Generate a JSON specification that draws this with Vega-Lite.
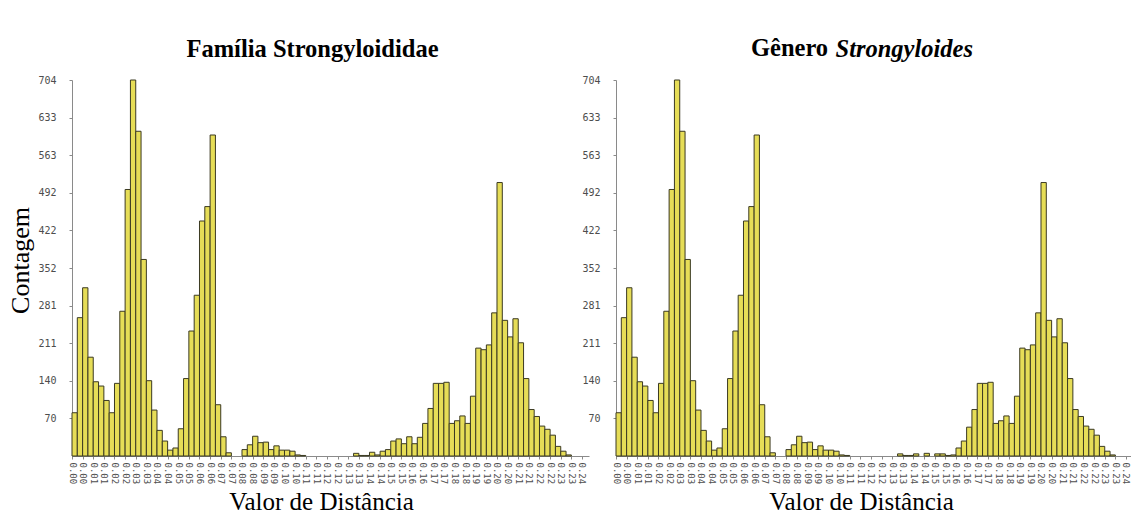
{
  "$schema": "https://vega.github.io/schema/vega-lite/v6.json",
  "background": "white",
  "padding": {"left": 7, "top": 36, "right": 0, "bottom": 0},
  "spacing": 27,
  "bounds": "flush",
  "title": {
    "text": "Gênero",
    "frame": "group",
    "anchor": "start",
    "dx": 679,
    "dy": 38
  },
  "datasets": {
    "familia": [
      {"x0": 0.0000, "x1": 0.0025, "n": 81},
      {"x0": 0.0025, "x1": 0.0050, "n": 259},
      {"x0": 0.0050, "x1": 0.0075, "n": 315},
      {"x0": 0.0075, "x1": 0.0100, "n": 185},
      {"x0": 0.0100, "x1": 0.0125, "n": 139},
      {"x0": 0.0125, "x1": 0.0150, "n": 131},
      {"x0": 0.0150, "x1": 0.0175, "n": 104},
      {"x0": 0.0175, "x1": 0.0200, "n": 81},
      {"x0": 0.0200, "x1": 0.0225, "n": 136},
      {"x0": 0.0225, "x1": 0.0250, "n": 271},
      {"x0": 0.0250, "x1": 0.0275, "n": 499},
      {"x0": 0.0275, "x1": 0.0300, "n": 704},
      {"x0": 0.0300, "x1": 0.0325, "n": 608},
      {"x0": 0.0325, "x1": 0.0350, "n": 368},
      {"x0": 0.0350, "x1": 0.0375, "n": 141},
      {"x0": 0.0375, "x1": 0.0400, "n": 86},
      {"x0": 0.0400, "x1": 0.0425, "n": 48},
      {"x0": 0.0425, "x1": 0.0450, "n": 28},
      {"x0": 0.0450, "x1": 0.0475, "n": 11},
      {"x0": 0.0475, "x1": 0.0500, "n": 15},
      {"x0": 0.0500, "x1": 0.0525, "n": 51},
      {"x0": 0.0525, "x1": 0.0550, "n": 145},
      {"x0": 0.0550, "x1": 0.0575, "n": 234},
      {"x0": 0.0575, "x1": 0.0600, "n": 301},
      {"x0": 0.0600, "x1": 0.0625, "n": 440},
      {"x0": 0.0625, "x1": 0.0650, "n": 467},
      {"x0": 0.0650, "x1": 0.0675, "n": 601},
      {"x0": 0.0675, "x1": 0.0700, "n": 96},
      {"x0": 0.0700, "x1": 0.0725, "n": 36},
      {"x0": 0.0725, "x1": 0.0750, "n": 6},
      {"x0": 0.0800, "x1": 0.0825, "n": 12},
      {"x0": 0.0825, "x1": 0.0850, "n": 21},
      {"x0": 0.0850, "x1": 0.0875, "n": 37},
      {"x0": 0.0875, "x1": 0.0900, "n": 25},
      {"x0": 0.0900, "x1": 0.0925, "n": 26},
      {"x0": 0.0925, "x1": 0.0950, "n": 12},
      {"x0": 0.0950, "x1": 0.0975, "n": 19},
      {"x0": 0.0975, "x1": 0.1000, "n": 11},
      {"x0": 0.1000, "x1": 0.1025, "n": 11},
      {"x0": 0.1025, "x1": 0.1050, "n": 9},
      {"x0": 0.1050, "x1": 0.1075, "n": 2},
      {"x0": 0.1075, "x1": 0.1100, "n": 1},
      {"x0": 0.1325, "x1": 0.1350, "n": 5},
      {"x0": 0.1350, "x1": 0.1375, "n": 1},
      {"x0": 0.1375, "x1": 0.1400, "n": 1},
      {"x0": 0.1400, "x1": 0.1425, "n": 7},
      {"x0": 0.1425, "x1": 0.1450, "n": 2},
      {"x0": 0.1450, "x1": 0.1475, "n": 9},
      {"x0": 0.1475, "x1": 0.1500, "n": 12},
      {"x0": 0.1500, "x1": 0.1525, "n": 28},
      {"x0": 0.1525, "x1": 0.1550, "n": 32},
      {"x0": 0.1550, "x1": 0.1575, "n": 23},
      {"x0": 0.1575, "x1": 0.1600, "n": 36},
      {"x0": 0.1600, "x1": 0.1625, "n": 23},
      {"x0": 0.1625, "x1": 0.1650, "n": 35},
      {"x0": 0.1650, "x1": 0.1675, "n": 61},
      {"x0": 0.1675, "x1": 0.1700, "n": 89},
      {"x0": 0.1700, "x1": 0.1725, "n": 136},
      {"x0": 0.1725, "x1": 0.1750, "n": 136},
      {"x0": 0.1750, "x1": 0.1775, "n": 138},
      {"x0": 0.1775, "x1": 0.1800, "n": 61},
      {"x0": 0.1800, "x1": 0.1825, "n": 66},
      {"x0": 0.1825, "x1": 0.1850, "n": 75},
      {"x0": 0.1850, "x1": 0.1875, "n": 61},
      {"x0": 0.1875, "x1": 0.1900, "n": 112},
      {"x0": 0.1900, "x1": 0.1925, "n": 202},
      {"x0": 0.1925, "x1": 0.1950, "n": 199},
      {"x0": 0.1950, "x1": 0.1975, "n": 208},
      {"x0": 0.1975, "x1": 0.2000, "n": 268},
      {"x0": 0.2000, "x1": 0.2025, "n": 512},
      {"x0": 0.2025, "x1": 0.2050, "n": 254},
      {"x0": 0.2050, "x1": 0.2075, "n": 223},
      {"x0": 0.2075, "x1": 0.2100, "n": 257},
      {"x0": 0.2100, "x1": 0.2125, "n": 212},
      {"x0": 0.2125, "x1": 0.2150, "n": 145},
      {"x0": 0.2150, "x1": 0.2175, "n": 87},
      {"x0": 0.2175, "x1": 0.2200, "n": 74},
      {"x0": 0.2200, "x1": 0.2225, "n": 56},
      {"x0": 0.2225, "x1": 0.2250, "n": 50},
      {"x0": 0.2250, "x1": 0.2275, "n": 39},
      {"x0": 0.2275, "x1": 0.2300, "n": 18},
      {"x0": 0.2300, "x1": 0.2325, "n": 9},
      {"x0": 0.2325, "x1": 0.2350, "n": 2}
    ],
    "genero": [
      {"x0": 0.0000, "x1": 0.0025, "n": 81},
      {"x0": 0.0025, "x1": 0.0050, "n": 259},
      {"x0": 0.0050, "x1": 0.0075, "n": 315},
      {"x0": 0.0075, "x1": 0.0100, "n": 185},
      {"x0": 0.0100, "x1": 0.0125, "n": 139},
      {"x0": 0.0125, "x1": 0.0150, "n": 131},
      {"x0": 0.0150, "x1": 0.0175, "n": 104},
      {"x0": 0.0175, "x1": 0.0200, "n": 81},
      {"x0": 0.0200, "x1": 0.0225, "n": 136},
      {"x0": 0.0225, "x1": 0.0250, "n": 271},
      {"x0": 0.0250, "x1": 0.0275, "n": 499},
      {"x0": 0.0275, "x1": 0.0300, "n": 704},
      {"x0": 0.0300, "x1": 0.0325, "n": 608},
      {"x0": 0.0325, "x1": 0.0350, "n": 368},
      {"x0": 0.0350, "x1": 0.0375, "n": 141},
      {"x0": 0.0375, "x1": 0.0400, "n": 86},
      {"x0": 0.0400, "x1": 0.0425, "n": 48},
      {"x0": 0.0425, "x1": 0.0450, "n": 28},
      {"x0": 0.0450, "x1": 0.0475, "n": 11},
      {"x0": 0.0475, "x1": 0.0500, "n": 15},
      {"x0": 0.0500, "x1": 0.0525, "n": 51},
      {"x0": 0.0525, "x1": 0.0550, "n": 145},
      {"x0": 0.0550, "x1": 0.0575, "n": 234},
      {"x0": 0.0575, "x1": 0.0600, "n": 301},
      {"x0": 0.0600, "x1": 0.0625, "n": 440},
      {"x0": 0.0625, "x1": 0.0650, "n": 467},
      {"x0": 0.0650, "x1": 0.0675, "n": 601},
      {"x0": 0.0675, "x1": 0.0700, "n": 96},
      {"x0": 0.0700, "x1": 0.0725, "n": 36},
      {"x0": 0.0725, "x1": 0.0750, "n": 6},
      {"x0": 0.0800, "x1": 0.0825, "n": 12},
      {"x0": 0.0825, "x1": 0.0850, "n": 21},
      {"x0": 0.0850, "x1": 0.0875, "n": 37},
      {"x0": 0.0875, "x1": 0.0900, "n": 25},
      {"x0": 0.0900, "x1": 0.0925, "n": 26},
      {"x0": 0.0925, "x1": 0.0950, "n": 12},
      {"x0": 0.0950, "x1": 0.0975, "n": 19},
      {"x0": 0.0975, "x1": 0.1000, "n": 11},
      {"x0": 0.1000, "x1": 0.1025, "n": 11},
      {"x0": 0.1025, "x1": 0.1050, "n": 9},
      {"x0": 0.1050, "x1": 0.1075, "n": 2},
      {"x0": 0.1075, "x1": 0.1100, "n": 1},
      {"x0": 0.1325, "x1": 0.1350, "n": 4},
      {"x0": 0.1350, "x1": 0.1375, "n": 1},
      {"x0": 0.1375, "x1": 0.1400, "n": 1},
      {"x0": 0.1400, "x1": 0.1425, "n": 4},
      {"x0": 0.1450, "x1": 0.1475, "n": 5},
      {"x0": 0.1500, "x1": 0.1525, "n": 4},
      {"x0": 0.1525, "x1": 0.1550, "n": 4},
      {"x0": 0.1550, "x1": 0.1575, "n": 1},
      {"x0": 0.1575, "x1": 0.1600, "n": 2},
      {"x0": 0.1600, "x1": 0.1625, "n": 15},
      {"x0": 0.1625, "x1": 0.1650, "n": 28},
      {"x0": 0.1650, "x1": 0.1675, "n": 54},
      {"x0": 0.1675, "x1": 0.1700, "n": 87},
      {"x0": 0.1700, "x1": 0.1725, "n": 136},
      {"x0": 0.1725, "x1": 0.1750, "n": 136},
      {"x0": 0.1750, "x1": 0.1775, "n": 138},
      {"x0": 0.1775, "x1": 0.1800, "n": 61},
      {"x0": 0.1800, "x1": 0.1825, "n": 66},
      {"x0": 0.1825, "x1": 0.1850, "n": 75},
      {"x0": 0.1850, "x1": 0.1875, "n": 61},
      {"x0": 0.1875, "x1": 0.1900, "n": 112},
      {"x0": 0.1900, "x1": 0.1925, "n": 202},
      {"x0": 0.1925, "x1": 0.1950, "n": 199},
      {"x0": 0.1950, "x1": 0.1975, "n": 208},
      {"x0": 0.1975, "x1": 0.2000, "n": 268},
      {"x0": 0.2000, "x1": 0.2025, "n": 512},
      {"x0": 0.2025, "x1": 0.2050, "n": 254},
      {"x0": 0.2050, "x1": 0.2075, "n": 223},
      {"x0": 0.2075, "x1": 0.2100, "n": 257},
      {"x0": 0.2100, "x1": 0.2125, "n": 212},
      {"x0": 0.2125, "x1": 0.2150, "n": 145},
      {"x0": 0.2150, "x1": 0.2175, "n": 87},
      {"x0": 0.2175, "x1": 0.2200, "n": 74},
      {"x0": 0.2200, "x1": 0.2225, "n": 56},
      {"x0": 0.2225, "x1": 0.2250, "n": 50},
      {"x0": 0.2250, "x1": 0.2275, "n": 39},
      {"x0": 0.2275, "x1": 0.2300, "n": 18},
      {"x0": 0.2300, "x1": 0.2325, "n": 9},
      {"x0": 0.2325, "x1": 0.2350, "n": 2}
    ]
  },
  "hconcat": [
    {
      "data": {"name": "familia"},
      "width": 517,
      "height": 376,
      "title": {"text": "Família Strongyloididae", "dx": -18},
      "mark": {"type": "rect", "fill": "#e6dd57", "stroke": "#3b3a22", "strokeWidth": 1},
      "encoding": {
        "x": {
          "field": "x0", "type": "quantitative",
          "scale": {"domain": [0, 0.2433], "nice": false, "zero": false},
          "axis": {
            "values": [0, 0.005, 0.01, 0.015, 0.02, 0.025, 0.03, 0.035, 0.04, 0.045, 0.05, 0.055, 0.06, 0.065, 0.07, 0.075, 0.08, 0.085, 0.09, 0.095, 0.1, 0.105, 0.11, 0.115, 0.12, 0.125, 0.13, 0.135, 0.14, 0.145, 0.15, 0.155, 0.16, 0.165, 0.17, 0.175, 0.18, 0.185, 0.19, 0.195, 0.2, 0.205, 0.21, 0.215, 0.22, 0.225, 0.23, 0.235, 0.24],
            "labelExpr": "format(floor(datum.value * 100 + 0.0001) / 100, '.2f')",
            "titleX": 249
          },
          "title": "Valor de Distância"
        },
        "x2": {"field": "x1"},
        "y": {
          "field": "n", "type": "quantitative",
          "scale": {"domain": [0, 704], "nice": false, "zero": true},
          "axis": {
            "values": [70.4, 140.8, 211.2, 281.6, 352, 422.4, 492.8, 563.2, 633.6, 704],
            "labelExpr": "floor(datum.value)",
            "titleY": 180
          },
          "title": "Contagem"
        },
        "y2": {"datum": 0}
      }
    },
    {
      "data": {"name": "genero"},
      "width": 517,
      "height": 376,
      "title": {
        "text": "Strongyloides",
        "fontStyle": "italic",
        "align": "left",
        "dx": -39
      },
      "mark": {"type": "rect", "fill": "#e6dd57", "stroke": "#3b3a22", "strokeWidth": 1},
      "encoding": {
        "x": {
          "field": "x0", "type": "quantitative",
          "scale": {"domain": [0, 0.2433], "nice": false, "zero": false},
          "axis": {
            "values": [0, 0.005, 0.01, 0.015, 0.02, 0.025, 0.03, 0.035, 0.04, 0.045, 0.05, 0.055, 0.06, 0.065, 0.07, 0.075, 0.08, 0.085, 0.09, 0.095, 0.1, 0.105, 0.11, 0.115, 0.12, 0.125, 0.13, 0.135, 0.14, 0.145, 0.15, 0.155, 0.16, 0.165, 0.17, 0.175, 0.18, 0.185, 0.19, 0.195, 0.2, 0.205, 0.21, 0.215, 0.22, 0.225, 0.23, 0.235, 0.24],
            "labelExpr": "format(floor(datum.value * 100 + 0.0001) / 100, '.2f')",
            "titleX": 245
          },
          "title": "Valor de Distância"
        },
        "x2": {"field": "x1"},
        "y": {
          "field": "n", "type": "quantitative",
          "scale": {"domain": [0, 704], "nice": false, "zero": true},
          "axis": {
            "values": [70.4, 140.8, 211.2, 281.6, 352, 422.4, 492.8, 563.2, 633.6, 704],
            "labelExpr": "floor(datum.value)"
          },
          "title": null
        },
        "y2": {"datum": 0}
      }
    }
  ],
  "config": {
    "view": {"stroke": null},
    "title": {
      "font": "Liberation Serif",
      "fontSize": 24.5,
      "fontWeight": "bold",
      "color": "black",
      "anchor": "middle",
      "offset": 13
    },
    "axis": {
      "grid": false,
      "domainColor": "#8a8a8a",
      "tickColor": "#8a8a8a",
      "tickSize": 3,
      "labelFont": "DejaVu Sans Mono",
      "labelFontSize": 9,
      "labelColor": "#4d4d4d",
      "titleFont": "Liberation Serif",
      "titleFontWeight": "normal",
      "titleColor": "black"
    },
    "axisX": {
      "labelAngle": 90,
      "labelPadding": 3,
      "labelOverlap": false,
      "titleFontSize": 25,
      "titlePadding": 6
    },
    "axisY": {
      "labelFontSize": 10,
      "labelPadding": 13,
      "titleFontSize": 26,
      "titlePadding": 4
    }
  }
}
